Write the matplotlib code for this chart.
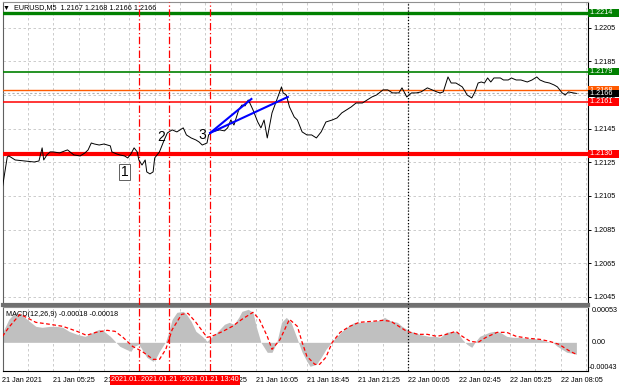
import matplotlib
matplotlib.use('Agg')
import matplotlib.pyplot as plt

plt.rcParams['font.family'] = ['Liberation Sans', 'DejaVu Sans']
FS = 5.2

# EURUSD M5, bar index (bar 0 = 21 Jan 02:45)
bar_x = [0, 3, 4, 8, 14, 20, 23, 25, 26, 28, 30, 32, 36, 41, 45, 49, 52, 54, 56, 58,
         61, 64, 68, 69, 72, 74, 77, 79, 81, 83, 85, 86, 88, 90, 91, 93, 95, 96, 99, 102,
         104, 105, 107, 110, 114, 116, 119, 122, 124, 126, 129, 130, 132, 137, 140, 142, 144, 146, 149, 151,
         153, 155, 156, 158, 161, 163, 165, 167, 170, 173, 176, 177, 179, 181, 184, 186, 189, 192, 195, 198,
         201, 204, 208, 211, 214, 217, 220, 223, 227, 230, 233, 236, 240, 243, 246, 250, 252, 255, 258, 261,
         264, 268, 271, 274, 276, 278, 281, 283, 286, 290, 292, 293, 296, 298, 300, 302, 304, 306, 308, 310,
         314, 316, 319, 321, 324, 327, 331, 334, 337, 339, 342, 345, 348, 350, 353, 355, 357, 360, 362]
price = [1.21104, 1.21282, 1.21288, 1.21264, 1.21258, 1.21252, 1.21258, 1.21336, 1.21264, 1.21294,
         1.21312, 1.21312, 1.21306, 1.21324, 1.21294, 1.21288, 1.21306, 1.21324, 1.21365, 1.21359,
         1.21353, 1.21359, 1.21348, 1.21312, 1.21300, 1.21294, 1.21288, 1.21276, 1.21300, 1.21336,
         1.21312, 1.21264, 1.21234, 1.21264, 1.21193, 1.21181, 1.21193, 1.21276, 1.21312, 1.21383,
         1.21425, 1.21431, 1.21443, 1.21431, 1.21455, 1.21413, 1.21395, 1.21383, 1.21371, 1.21353,
         1.21365, 1.21413, 1.21431, 1.21443, 1.21437, 1.21455, 1.21502, 1.21472, 1.21562, 1.21591,
         1.21586, 1.21621, 1.21603, 1.21562, 1.21490, 1.21455, 1.21502, 1.21395, 1.21544, 1.21621,
         1.21699, 1.21663, 1.21651, 1.21580, 1.21520, 1.21502, 1.21431, 1.21413, 1.21413, 1.21395,
         1.21431, 1.21490, 1.21502, 1.21514, 1.21544, 1.21562, 1.21580, 1.21603, 1.21603, 1.21621,
         1.21639, 1.21651, 1.21681, 1.21681, 1.21663, 1.21663, 1.21693, 1.21639, 1.21663, 1.21663,
         1.21669, 1.21693, 1.21681, 1.21669, 1.21663, 1.21669, 1.21758, 1.21722, 1.21722, 1.21699,
         1.21669, 1.21651, 1.21633, 1.21669, 1.21722, 1.21728, 1.21722, 1.21752, 1.21728, 1.21752,
         1.21752, 1.21740, 1.21740, 1.21752, 1.21740, 1.21740, 1.21728, 1.21740, 1.21758, 1.21740,
         1.21728, 1.21722, 1.21710, 1.21699, 1.21663, 1.21651, 1.21669, 1.21663, 1.21660]

hist_x = [0, 1, 4, 8, 11, 14, 17, 21, 25, 30, 34, 38, 42, 47, 52, 55, 58, 61, 64, 68,
          71, 74, 78, 81, 83, 86, 88, 91, 95, 97, 99, 101, 103, 105, 107, 110, 114, 116, 119, 122,
          126, 129, 131, 134, 137, 140, 143, 146, 149, 151, 155, 158, 160, 163, 167, 170, 173, 176, 179, 182,
          186, 189, 192, 194, 198, 201, 204, 208, 211, 214, 218, 222, 227, 233, 238, 241, 244, 249, 252, 255,
          257, 260, 263, 266, 269, 273, 276, 280, 284, 287, 290, 293, 296, 298, 301, 304, 307, 310, 314, 318,
          322, 326, 331, 334, 339, 343, 347, 350, 353, 356, 360, 362]
hist_v = [0.00012, 0.000195, 0.000345, 0.00045, 0.00042, 0.000375, 0.000315, 0.00024, 0.000225, 0.00024,
          0.00024, 0.000225, 0.000165, 0.00012, 0.00009, 0.00012, 0.000165, 0.000195, 0.000165, 0.00009,
          0.000015, -0.00006, -0.000105, -0.000135, -0.00006, -0.00003, -0.000105, -0.000225, -0.000285, -0.000225,
          -0.000135, -0.00006, 0.000015, 0.000165, 0.000345, 0.00045, 0.000465, 0.00042, 0.000315, 0.000165,
          0.00009, 0.000015, 0.00006, 0.00012, 0.000195, 0.00027, 0.0003, 0.00027, 0.000375, 0.000465,
          0.000495, 0.00045, 0.00024, 0.0, -0.00015, -0.00015, 0.0, 0.0003, 0.000375, 0.0003,
          0.000045, -0.00015, -0.000285, -0.00036, -0.00033, -0.000225, -0.000105, 0.000015, 0.00009, 0.000165,
          0.00024, 0.0003, 0.0003, 0.000315, 0.00033, 0.000375, 0.00033, 0.0003, 0.00024, 0.000195,
          0.000165, 0.00015, 0.00012, 0.000105, 0.00009, 0.00009, 0.000075, 0.00015, 0.000165, 0.00015,
          0.000045, -0.00003, -0.000075, 0.0, 0.00009, 0.00012, 0.00015, 0.000165, 0.00015, 0.00009,
          0.000075, 0.000075, 0.00006, 0.00006, 0.000045, 0.000015, 0.0, -0.00006, -0.000105, -0.00015,
          -0.000165, -0.00018]

sig_x = [0, 4, 11, 15, 21, 30, 38, 47, 53, 59, 66, 71, 76, 82, 88, 95, 99, 103, 107, 113,
         117, 122, 129, 132, 139, 145, 151, 158, 162, 167, 170, 175, 181, 186, 189, 192, 197, 200, 204, 208,
         213, 219, 225, 233, 240, 245, 250, 255, 262, 268, 274, 280, 286, 290, 295, 300, 305, 312, 318, 324,
         332, 339, 345, 351, 358, 362]
sig_v = [0.00009, 0.000225, 0.00042, 0.000375, 0.0003, 0.00027, 0.00024, 0.000165, 0.000105, 0.00015,
         0.00018, 0.000165, 0.000075, -0.00006, -0.000135, -0.000255, -0.000255, -0.000105, 0.00019, 0.00042,
         0.000435, 0.0003, 0.000075, 0.00009, 0.000165, 0.00024, 0.000345, 0.00045, 0.000345, 0.00009,
         -0.000105, 0.00004, 0.000345, 0.00024, 0.0, -0.00021, -0.00033, -0.00033, -0.000225, 0.0,
         0.00015, 0.00024, 0.0003, 0.000315, 0.00033, 0.000315, 0.00024, 0.000165, 0.00012, 0.00012,
         0.00009, 0.00012, 0.000165, 0.00009, 0.000015, 0.0, 0.000075, 0.00015, 0.00015, 0.00009,
         0.00006, 0.000045, 0.000015, -0.00003, -0.000135, -0.00018]

levels = [1.2214, 1.2179, 1.2168, 1.2161, 1.2130]
level_colors = ['#008000', '#008000', '#ff5a00', '#ff0000', '#ff0000']
level_widths = [2.4, 1.2, 1.0, 1.1, 3.0]
current_price = 1.2166

price_ticks = [1.2045, 1.2065, 1.2085, 1.2105, 1.2125, 1.2145, 1.2165, 1.2185, 1.2205]

vline_bars = [86, 105, 131]
vline_labels = ['2021.01.21 09:55', '2021.01.21 11:30', '2021.01.21 13:40']
session_bar = 256

time_labels = ['21 Jan 2021', '21 Jan 05:25', '21 Jan 08:05', '21 Jan 10:45', '21 Jan 13:25',
               '21 Jan 16:05', '21 Jan 18:45', '21 Jan 21:25', '22 Jan 00:05', '22 Jan 02:45',
               '22 Jan 05:25', '22 Jan 08:05']

# trend lines from point 3
trend_start = (131, 1.21425)
trend_ends = [(157, 1.21627), (180, 1.21639)]

marks = [('1', 77, 1.21193), ('2', 100, 1.21401), ('3', 126, 1.21413)]

fig = plt.figure(figsize=(6.2, 3.88), dpi=100)
ax = fig.add_axes([2.5 / 620, 1 - 305 / 388, 585 / 620, 303 / 388])
am = fig.add_axes([2.5 / 620, 1 - 371 / 388, 585 / 620, 64 / 388], sharex=ax)

grid_kw = dict(color='#c4c4c4', linestyle=(0, (3, 3)), linewidth=0.6)
xt = list(range(0, 369, 16))
for a in (ax, am):
    a.set_xticks(xt)
    a.grid(True, axis='x', **grid_kw)
    a.set_axisbelow(True)
    for s in a.spines.values():
        s.set_linewidth(0.8)
    a.spines['left'].set_color('#606060')
    a.spines['top'].set_color('#909090')

ax.set_xlim(0, 369)
ax.set_ylim(1.20401, 1.22204)
ax.set_yticks(price_ticks)
ax.set_yticklabels(['%.4f' % t for t in price_ticks])
ax.grid(True, axis='y', **grid_kw)
ax.yaxis.tick_right()
ax.tick_params(axis='y', length=2.5, width=0.7, pad=1.5, labelsize=FS, direction='out')
ax.tick_params(axis='x', bottom=False, labelbottom=False)
ax.spines['bottom'].set_color('#707070')
ax.spines['bottom'].set_linewidth(3)

for lv, c, w in zip(levels, level_colors, level_widths):
    ax.axhline(lv, color=c, linewidth=w, zorder=3)
ax.axhline(current_price, color='#b0b0b0', linewidth=0.8, linestyle=(0, (2, 2)), zorder=3)

for b in vline_bars:
    for a in (ax, am):
        a.axvline(b, color='#ff0000', linewidth=0.9, linestyle=(0, (6, 2, 1, 2)), zorder=3)
for a in (ax, am):
    a.axvline(session_bar, color='black', linewidth=0.9, linestyle=(0, (1, 1.5)), zorder=3)

ax.plot(bar_x, price, color='black', linewidth=0.7, zorder=4)

for ex, ey in trend_ends:
    ax.plot([trend_start[0], ex], [trend_start[1], ey], color='#0000ff', linewidth=1.5, zorder=5)

for t, bx, py in marks:
    kw = dict(fontsize=10, ha='center', va='center', zorder=6)
    if t == '1':
        kw['bbox'] = dict(boxstyle='square,pad=0.1', fc='white', ec='#606060', lw=0.7)
    ax.text(bx, py, t, **kw)

# price boxes on the right scale
box_order = [(1.2214, '#008000'), (1.2179, '#008000'), (1.2130, '#ff0000'),
             (1.2168, '#ff5a00'), (current_price, 'black'), (1.2161, '#ff0000')]
yt = ax.get_yaxis_transform()
for v, c in box_order:
    ax.text(1.0 + 1 / 585, v, ' %.4f   ' % v, transform=yt, ha='left', va='center',
            fontsize=FS, color='white', clip_on=False, zorder=10,
            bbox=dict(boxstyle='square,pad=0.05', fc=c, ec='none'))

fig.text(3 / 620, 1 - 8 / 388, '\u25bc', fontsize=5, va='center')
fig.text(14 / 620, 1 - 8 / 388, 'EURUSD,M5  1.2167 1.2168 1.2166 1.2166', fontsize=FS, va='center')

# MACD panel
am.fill_between(hist_x, 0, hist_v, color='#c0c0c0', linewidth=0, zorder=2)
am.plot(sig_x, sig_v, color='#ff0000', linewidth=0.9, linestyle=(0, (3, 2)), zorder=4)
am.set_ylim(-0.00043, 0.00053)
am.set_yticks([])
am.tick_params(axis='y', right=False, left=False)
at = am.get_yaxis_transform()
am.text(1.0 + 4 / 585, 0.00053, '0.00053', transform=at, ha='left', va='top', fontsize=FS, clip_on=False)
am.text(1.0 + 4 / 585, 0.0, '0.00', transform=at, ha='left', va='center', fontsize=FS, clip_on=False)
am.text(1.0 + 1.5 / 585, -0.00043, '-0.00043', transform=at, ha='left', va='bottom', fontsize=FS, clip_on=False)
am.text(0.006, 0.93, 'MACD(12,26,9) -0.00018 -0.00018', transform=am.transAxes, fontsize=FS, va='top')

labels = []
for i in range(len(xt)):
    labels.append(time_labels[i // 2] if i % 2 == 0 else '')
am.set_xticklabels(labels)
am.tick_params(axis='x', length=0, pad=4, labelsize=FS)
for lab in am.get_xticklabels():
    lab.set_ha('left')

for b, txt in zip(vline_bars, vline_labels):
    am.text(b, -0.14, txt, transform=am.get_xaxis_transform(), ha='center', va='center',
            fontsize=FS, color='white', clip_on=False, zorder=10,
            bbox=dict(boxstyle='square,pad=0.15', fc='#ff0000', ec='none'))

fig.savefig('out.png', dpi=100)
